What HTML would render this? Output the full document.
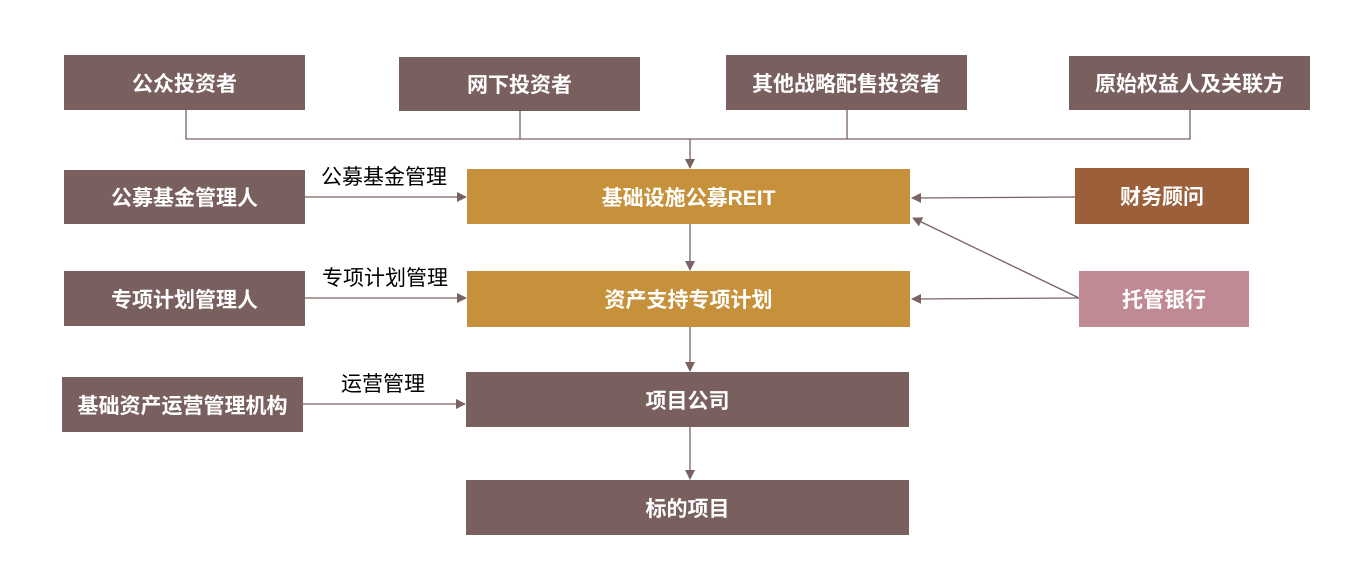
<!DOCTYPE html>
<html><head><meta charset="utf-8"><style>
body{margin:0;width:1371px;height:587px;background:#fff;position:relative;overflow:hidden;font-family:"Liberation Sans","Noto Sans CJK SC",sans-serif}
.b{position:absolute;display:flex;align-items:center;justify-content:center;color:#fff;font-weight:bold;font-size:21px;background:#7A5F5F}
.g{background:#C6913A}
.l{position:absolute;font-size:21px;color:#000;line-height:24px}
svg{position:absolute;left:0;top:0}
</style></head><body>
<svg width="1371" height="587">
<defs><marker id="a" markerWidth="10" markerHeight="10" refX="9" refY="5" orient="auto" markerUnits="userSpaceOnUse"><path d="M0,0 L10,5 L0,10z" fill="#7A6262"/></marker></defs>
<g stroke="#7A6262" stroke-width="1.3" fill="none">
<path d="M186,110V139H1190V110M520,111V139M847,110V139"/>
<line x1="690" y1="139" x2="690" y2="168" marker-end="url(#a)"/>
<line x1="305" y1="197" x2="466" y2="197" marker-end="url(#a)"/>
<line x1="305" y1="298" x2="466" y2="298" marker-end="url(#a)"/>
<line x1="303" y1="404" x2="465" y2="404" marker-end="url(#a)"/>
<line x1="690" y1="224" x2="690" y2="270" marker-end="url(#a)"/>
<line x1="690" y1="327" x2="690" y2="371" marker-end="url(#a)"/>
<line x1="690" y1="427" x2="690" y2="479" marker-end="url(#a)"/>
<line x1="1075" y1="197" x2="912" y2="198" marker-end="url(#a)"/>
<line x1="1079" y1="298" x2="912" y2="299" marker-end="url(#a)"/>
<line x1="1079" y1="298" x2="913" y2="218" marker-end="url(#a)"/>
</g></svg>
<div class="b" style="left:64px;top:55px;width:241px;height:55px">公众投资者</div>
<div class="b" style="left:399px;top:57px;width:241px;height:54px">网下投资者</div>
<div class="b" style="left:726px;top:55px;width:241px;height:55px">其他战略配售投资者</div>
<div class="b" style="left:1069px;top:56px;width:241px;height:54px">原始权益人及关联方</div>
<div class="b" style="left:64px;top:170px;width:241px;height:54px">公募基金管理人</div>
<div class="b" style="left:64px;top:271px;width:241px;height:55px">专项计划管理人</div>
<div class="b" style="left:62px;top:377px;width:241px;height:55px">基础资产运营管理机构</div>
<div class="b g" style="left:467px;top:169px;width:443px;height:55px">基础设施公募REIT</div>
<div class="b g" style="left:467px;top:271px;width:443px;height:56px">资产支持专项计划</div>
<div class="b" style="left:466px;top:372px;width:443px;height:55px">项目公司</div>
<div class="b" style="left:466px;top:480px;width:443px;height:55px">标的项目</div>
<div class="b" style="left:1075px;top:168px;width:174px;height:56px;background:#9B5F3A">财务顾问</div>
<div class="b" style="left:1079px;top:271px;width:170px;height:56px;background:#C08A94">托管银行</div>
<div class="l" style="left:321px;top:166px">公募基金管理</div>
<div class="l" style="left:322px;top:267px">专项计划管理</div>
<div class="l" style="left:341px;top:373px">运营管理</div>
</body></html>
